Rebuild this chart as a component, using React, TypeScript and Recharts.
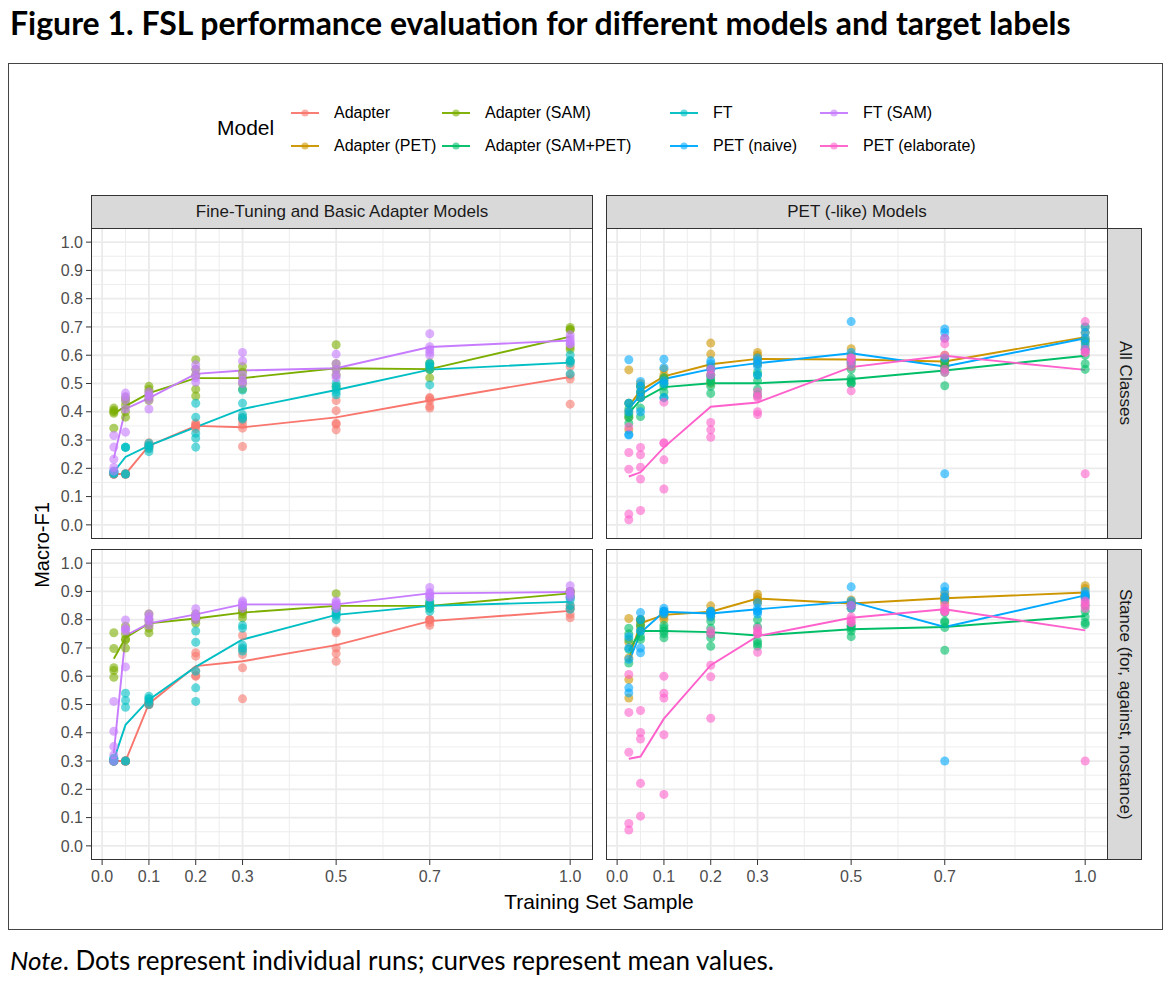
import React from 'react';
import { ComposedChart, Line, Scatter, XAxis, YAxis, CartesianGrid } from 'recharts';

// training set fractions used in every run
const SAMPLE_SIZES = [0.025, 0.05, 0.1, 0.2, 0.3, 0.5, 0.7, 1.0];
const X_MAJOR = [0, 0.1, 0.2, 0.3, 0.5, 0.7, 1.0];
const X_MINOR = [0.05, 0.15, 0.25, 0.4, 0.6, 0.85];
const Y_MAJOR = [0, 0.1, 0.2, 0.3, 0.4, 0.5, 0.6, 0.7, 0.8, 0.9, 1.0];
const Y_MINOR = [0.05, 0.15, 0.25, 0.35, 0.45, 0.55, 0.65, 0.75, 0.85, 0.95];

const MODELS = [
  'Adapter', 'Adapter (PET)', 'Adapter (SAM)', 'Adapter (SAM+PET)',
  'FT', 'PET (naive)', 'FT (SAM)', 'PET (elaborate)',
];
const COLORS = ['#F8766D', '#CD9600', '#7CAE00', '#00BE67', '#00BFC4', '#00A9FF', '#C77CFF', '#FF61CC'];

// ---- All Classes, fine-tuning and basic adapter models ----
const allAdapterMean = [0.18, 0.18, 0.28, 0.35, 0.345, 0.38, 0.44, 0.523];
const allAdapterRuns = [
  [0.18, 0.18, 0.18, 0.18, 0.18], [0.18, 0.18, 0.18, 0.18, 0.18],
  [0.27, 0.28, 0.29, 0.28, 0.28], [0.354, 0.35, 0.34, 0.36, 0.35],
  [0.342, 0.277, 0.37, 0.38, 0.355], [0.44, 0.404, 0.356, 0.336, 0.36],
  [0.448, 0.413, 0.44, 0.42, 0.45], [0.516, 0.427, 0.53, 0.56, 0.58],
];
const allAdapterSamMean = [0.393, 0.42, 0.466, 0.519, 0.519, 0.554, 0.551, 0.666];
const allAdapterSamRuns = [
  [0.413, 0.405, 0.395, 0.342, 0.4], [0.424, 0.381, 0.45, 0.44, 0.4],
  [0.49, 0.48, 0.47, 0.45, 0.44], [0.584, 0.456, 0.53, 0.55, 0.48],
  [0.56, 0.54, 0.52, 0.5, 0.48], [0.637, 0.57, 0.55, 0.53, 0.49],
  [0.573, 0.55, 0.52, 0.56, 0.55], [0.698, 0.69, 0.63, 0.62, 0.69],
];
const allFtMean = [0.187, 0.24, 0.28, 0.346, 0.41, 0.477, 0.549, 0.574];
const allFtRuns = [
  [0.183, 0.18, 0.19, 0.185, 0.19], [0.274, 0.18, 0.18, 0.274, 0.275],
  [0.289, 0.277, 0.259, 0.28, 0.27], [0.43, 0.381, 0.324, 0.307, 0.275],
  [0.477, 0.43, 0.374, 0.38, 0.39], [0.5, 0.49, 0.48, 0.46, 0.47],
  [0.57, 0.56, 0.55, 0.495, 0.57], [0.601, 0.572, 0.534, 0.58, 0.58],
];
const allFtSamMean = [0.236, 0.41, 0.448, 0.534, 0.546, 0.554, 0.629, 0.652];
const allFtSamRuns = [
  [0.316, 0.275, 0.232, 0.203, 0.19], [0.466, 0.454, 0.442, 0.41, 0.328],
  [0.454, 0.442, 0.41, 0.47, 0.46], [0.566, 0.55, 0.53, 0.52, 0.505],
  [0.61, 0.58, 0.53, 0.51, 0.5], [0.604, 0.57, 0.55, 0.53, 0.52],
  [0.676, 0.63, 0.61, 0.6, 0.62], [0.672, 0.66, 0.64, 0.65, 0.64],
];

// ---- All Classes, PET (-like) models ----
const allAdapterPetMean = [0.42, 0.475, 0.525, 0.568, 0.587, 0.585, 0.578, 0.664];
const allAdapterPetRuns = [
  [0.548, 0.43, 0.4, 0.38, 0.336], [0.49, 0.5, 0.47, 0.45, 0.46],
  [0.53, 0.52, 0.55, 0.51, 0.52], [0.643, 0.604, 0.56, 0.53, 0.5],
  [0.61, 0.6, 0.59, 0.57, 0.57], [0.623, 0.6, 0.58, 0.56, 0.57],
  [0.6, 0.58, 0.57, 0.56, 0.58], [0.7, 0.68, 0.66, 0.65, 0.63],
];
const allAdapterSamPetMean = [0.395, 0.442, 0.487, 0.501, 0.501, 0.516, 0.546, 0.598];
const allAdapterSamPetRuns = [
  [0.43, 0.41, 0.39, 0.36, 0.38], [0.47, 0.45, 0.413, 0.383, 0.49],
  [0.5, 0.47, 0.45, 0.49, 0.52], [0.52, 0.505, 0.49, 0.465, 0.51],
  [0.54, 0.51, 0.48, 0.46, 0.53], [0.55, 0.52, 0.5, 0.51, 0.5],
  [0.56, 0.55, 0.54, 0.492, 0.58], [0.65, 0.62, 0.6, 0.57, 0.55],
];
const allPetNaiveMean = [0.41, 0.46, 0.516, 0.551, 0.572, 0.607, 0.56, 0.66];
const allPetNaiveRuns = [
  [0.584, 0.43, 0.4, 0.318, 0.32], [0.507, 0.49, 0.47, 0.45, 0.4],
  [0.586, 0.556, 0.51, 0.5, 0.45], [0.58, 0.57, 0.55, 0.53, 0.55],
  [0.59, 0.58, 0.57, 0.56, 0.53], [0.719, 0.61, 0.59, 0.58, 0.57],
  [0.693, 0.68, 0.66, 0.59, 0.181], [0.7, 0.68, 0.66, 0.64, 0.62],
];
const allPetElaborateMean = [0.171, 0.186, 0.274, 0.418, 0.433, 0.558, 0.598, 0.548];
const allPetElaborateRuns = [
  [0.256, 0.197, 0.038, 0.018, 0.346], [0.274, 0.248, 0.204, 0.162, 0.051],
  [0.434, 0.289, 0.23, 0.127, 0.29], [0.362, 0.336, 0.31, 0.55, 0.53],
  [0.4, 0.39, 0.45, 0.47, 0.455], [0.474, 0.56, 0.58, 0.59, 0.59],
  [0.66, 0.64, 0.6, 0.55, 0.54], [0.719, 0.181, 0.62, 0.61, 0.61],
];

// ---- Stance, fine-tuning and basic adapter models ----
const stAdapterMean = [0.3, 0.3, 0.503, 0.636, 0.653, 0.71, 0.795, 0.831];
const stAdapterRuns = [
  [0.3, 0.3, 0.3, 0.3, 0.3], [0.3, 0.3, 0.3, 0.3, 0.3],
  [0.5, 0.51, 0.5, 0.505, 0.5], [0.683, 0.671, 0.602, 0.62, 0.6],
  [0.744, 0.695, 0.677, 0.63, 0.52], [0.76, 0.754, 0.7, 0.653, 0.68],
  [0.8, 0.79, 0.78, 0.8, 0.8], [0.819, 0.807, 0.84, 0.85, 0.84],
];
const stAdapterSamMean = [0.662, 0.736, 0.787, 0.804, 0.825, 0.849, 0.849, 0.893];
const stAdapterSamRuns = [
  [0.754, 0.698, 0.63, 0.62, 0.596], [0.777, 0.75, 0.73, 0.73, 0.7],
  [0.783, 0.77, 0.754, 0.8, 0.82], [0.787, 0.81, 0.8, 0.82, 0.8],
  [0.807, 0.82, 0.83, 0.84, 0.83], [0.892, 0.837, 0.84, 0.84, 0.84],
  [0.85, 0.84, 0.86, 0.85, 0.85], [0.9, 0.89, 0.88, 0.9, 0.9],
];
const stFtMean = [0.304, 0.428, 0.517, 0.633, 0.73, 0.817, 0.849, 0.863];
const stFtRuns = [
  [0.3, 0.3, 0.3, 0.31, 0.31], [0.514, 0.49, 0.3, 0.3, 0.54],
  [0.529, 0.52, 0.51, 0.5, 0.52], [0.72, 0.618, 0.559, 0.511, 0.76],
  [0.78, 0.77, 0.689, 0.7, 0.71], [0.813, 0.8, 0.82, 0.83, 0.82],
  [0.854, 0.84, 0.83, 0.866, 0.85], [0.878, 0.85, 0.837, 0.87, 0.88],
];
const stFtSamMean = [0.328, 0.744, 0.787, 0.819, 0.854, 0.854, 0.893, 0.898];
const stFtSamRuns = [
  [0.511, 0.405, 0.351, 0.322, 0.3], [0.799, 0.766, 0.633, 0.76, 0.77],
  [0.82, 0.795, 0.8, 0.78, 0.81], [0.839, 0.813, 0.82, 0.81, 0.8],
  [0.866, 0.86, 0.85, 0.85, 0.84], [0.866, 0.854, 0.86, 0.85, 0.84],
  [0.914, 0.896, 0.89, 0.88, 0.88], [0.92, 0.9, 0.9, 0.89, 0.88],
];

// ---- Stance, PET (-like) models ----
const stAdapterPetMean = [0.66, 0.787, 0.817, 0.828, 0.875, 0.857, 0.876, 0.896];
const stAdapterPetRuns = [
  [0.804, 0.665, 0.588, 0.523, 0.72], [0.8, 0.79, 0.78, 0.77, 0.8],
  [0.8, 0.82, 0.83, 0.81, 0.82], [0.849, 0.83, 0.82, 0.81, 0.83],
  [0.89, 0.88, 0.87, 0.86, 0.87], [0.87, 0.86, 0.85, 0.84, 0.86],
  [0.89, 0.88, 0.87, 0.86, 0.88], [0.92, 0.91, 0.89, 0.88, 0.88],
];
const stAdapterSamPetMean = [0.69, 0.76, 0.76, 0.756, 0.744, 0.766, 0.774, 0.813];
const stAdapterSamPetRuns = [
  [0.77, 0.75, 0.73, 0.695, 0.647], [0.8, 0.78, 0.76, 0.74, 0.73],
  [0.78, 0.76, 0.75, 0.736, 0.77], [0.795, 0.77, 0.75, 0.736, 0.706],
  [0.8, 0.775, 0.724, 0.706, 0.715], [0.777, 0.77, 0.76, 0.74, 0.78],
  [0.825, 0.795, 0.772, 0.692, 0.79], [0.85, 0.83, 0.81, 0.79, 0.783],
];
const stPetNaiveMean = [0.65, 0.754, 0.828, 0.822, 0.837, 0.864, 0.774, 0.886];
const stPetNaiveRuns = [
  [0.74, 0.7, 0.66, 0.559, 0.541], [0.825, 0.8, 0.76, 0.7, 0.683],
  [0.84, 0.825, 0.83, 0.82, 0.83], [0.83, 0.82, 0.81, 0.83, 0.82],
  [0.86, 0.84, 0.83, 0.83, 0.82], [0.916, 0.866, 0.85, 0.85, 0.84],
  [0.916, 0.9, 0.88, 0.872, 0.3], [0.9, 0.89, 0.885, 0.88, 0.875],
];
const stPetElaborateMean = [0.308, 0.316, 0.45, 0.639, 0.742, 0.807, 0.837, 0.762];
const stPetElaborateRuns = [
  [0.606, 0.472, 0.331, 0.079, 0.056], [0.479, 0.401, 0.378, 0.221, 0.105],
  [0.6, 0.54, 0.523, 0.393, 0.182], [0.639, 0.598, 0.451, 0.75, 0.76],
  [0.685, 0.75, 0.76, 0.77, 0.75], [0.85, 0.81, 0.8, 0.79, 0.79],
  [0.85, 0.84, 0.83, 0.83, 0.83], [0.866, 0.85, 0.86, 0.84, 0.3],
];

const X_DOMAIN = [-0.02375, 1.04875];
const Y_DOMAIN = [-0.05, 1.05];
const PW = 502;
const PH = 311;
const YW = 60;
const XH = 34;
const FONT = '"Liberation Sans", Arial, sans-serif';

const meanPoints = (mean) => SAMPLE_SIZES.map((x, i) => ({ x, y: mean[i] }));
const runPoints = (runs) =>
  runs.flatMap((vals, i) => vals.map((y) => ({ x: SAMPLE_SIZES[i], y })));

const Panel = ({ left, top, series, showX, showY }) => {
  const yw = showY ? YW : 0;
  const xh = showX ? XH : 0;
  const tickStyle = { fill: '#4D4D4D', fontSize: 16, fontFamily: FONT };
  return (
    <div style={{ position: 'absolute', left: left - yw, top }}>
      <ComposedChart width={PW + yw} height={PH + xh} margin={{ top: 0, right: 0, bottom: 0, left: 0 }}>
        <CartesianGrid horizontalValues={Y_MINOR} verticalValues={X_MINOR} stroke="#EBEBEB" strokeWidth={0.9} />
        <CartesianGrid horizontalValues={Y_MAJOR} verticalValues={X_MAJOR} stroke="#EBEBEB" strokeWidth={1.8} />
        <XAxis
          type="number" dataKey="x" domain={X_DOMAIN} allowDataOverflow ticks={X_MAJOR}
          hide={!showX} height={XH} axisLine={false} tickSize={5} tickMargin={6}
          tickLine={{ stroke: '#333333' }} tick={tickStyle} tickFormatter={(v) => v.toFixed(1)}
          interval={0}
        />
        <YAxis
          type="number" dataKey="y" domain={Y_DOMAIN} allowDataOverflow ticks={Y_MAJOR}
          hide={!showY} width={YW} axisLine={false} tickSize={5} tickMargin={3}
          tickLine={{ stroke: '#333333' }} tick={tickStyle} tickFormatter={(v) => v.toFixed(1)}
          interval={0}
        />
        {series.map((s) => (
          <Scatter
            key={`pts-${s.model}`} name={MODELS[s.model]} data={runPoints(s.runs)}
            fill={COLORS[s.model]} fillOpacity={0.6} isAnimationActive={false}
          />
        ))}
        {series.map((s) => (
          <Line
            key={`line-${s.model}`} name={MODELS[s.model]} data={meanPoints(s.mean)} dataKey="y"
            type="linear" stroke={COLORS[s.model]} strokeWidth={1.9} dot={false}
            activeDot={false} isAnimationActive={false}
          />
        ))}
      </ComposedChart>
      <div
        style={{
          position: 'absolute', left: yw, top: 0, width: PW, height: PH,
          border: '1.5px solid #333333', boxSizing: 'border-box', pointerEvents: 'none',
        }}
      />
    </div>
  );
};

const Strip = ({ left, top, width, height, label, vertical }) => (
  <div
    style={{
      position: 'absolute', left, top, width, height, background: '#D9D9D9',
      border: '1.5px solid #333333', boxSizing: 'border-box', display: 'flex',
      alignItems: 'center', justifyContent: 'center', fontFamily: FONT, fontSize: 17,
      color: '#1A1A1A', writingMode: vertical ? 'vertical-rl' : 'horizontal-tb',
      whiteSpace: 'nowrap',
    }}
  >
    {label}
  </div>
);

const LegendItem = ({ model, x, y }) => (
  <div style={{ position: 'absolute', left: x - 16, top: y - 10, display: 'flex', alignItems: 'center', height: 20 }}>
    <svg width={32} height={20}>
      <line x1={2} y1={10} x2={30} y2={10} stroke={COLORS[model]} strokeWidth={1.9} />
      <circle cx={16} cy={10} r={3.6} fill={COLORS[model]} fillOpacity={0.6} />
    </svg>
    <span style={{ marginLeft: 13, fontFamily: FONT, fontSize: 16, color: '#000' }}>{MODELS[model]}</span>
  </div>
);

const LEFT_X = 91;
const RIGHT_X = 606;
const TOP_Y = 228;
const BOTTOM_Y = 549;

export default function App() {
  const allFt = [
    { model: 0, mean: allAdapterMean, runs: allAdapterRuns },
    { model: 2, mean: allAdapterSamMean, runs: allAdapterSamRuns },
    { model: 4, mean: allFtMean, runs: allFtRuns },
    { model: 6, mean: allFtSamMean, runs: allFtSamRuns },
  ];
  const allPet = [
    { model: 1, mean: allAdapterPetMean, runs: allAdapterPetRuns },
    { model: 3, mean: allAdapterSamPetMean, runs: allAdapterSamPetRuns },
    { model: 5, mean: allPetNaiveMean, runs: allPetNaiveRuns },
    { model: 7, mean: allPetElaborateMean, runs: allPetElaborateRuns },
  ];
  const stFt = [
    { model: 0, mean: stAdapterMean, runs: stAdapterRuns },
    { model: 2, mean: stAdapterSamMean, runs: stAdapterSamRuns },
    { model: 4, mean: stFtMean, runs: stFtRuns },
    { model: 6, mean: stFtSamMean, runs: stFtSamRuns },
  ];
  const stPet = [
    { model: 1, mean: stAdapterPetMean, runs: stAdapterPetRuns },
    { model: 3, mean: stAdapterSamPetMean, runs: stAdapterSamPetRuns },
    { model: 5, mean: stPetNaiveMean, runs: stPetNaiveRuns },
    { model: 7, mean: stPetElaborateMean, runs: stPetElaborateRuns },
  ];

  return (
    <div style={{ position: 'absolute', left: 0, top: 0, width: 1171, height: 984, background: '#fff', fontFamily: FONT }}>
      <div style={{ position: 'absolute', left: 10, top: 3, fontFamily: 'Lato, sans-serif', fontWeight: 700, fontSize: 32, color: '#000', whiteSpace: 'nowrap' }}>
        Figure 1. FSL performance evaluation for different models and target labels
      </div>

      <div style={{ position: 'absolute', left: 8, top: 63, width: 1155, height: 867, border: '1.5px solid #444', boxSizing: 'border-box' }} />

      {/* legend */}
      <div style={{ position: 'absolute', left: 217, top: 116, fontSize: 21, color: '#000' }}>Model</div>
      <LegendItem model={0} x={305} y={113} />
      <LegendItem model={1} x={305} y={146} />
      <LegendItem model={2} x={456} y={113} />
      <LegendItem model={3} x={456} y={146} />
      <LegendItem model={4} x={684} y={113} />
      <LegendItem model={5} x={684} y={146} />
      <LegendItem model={6} x={834} y={113} />
      <LegendItem model={7} x={834} y={146} />

      <Strip left={LEFT_X} top={195} width={PW} height={34} label="Fine-Tuning and Basic Adapter Models" />
      <Strip left={RIGHT_X} top={195} width={PW} height={34} label="PET (-like) Models" />
      <Strip left={RIGHT_X + PW - 1} top={TOP_Y} width={35} height={PH} label="All Classes" vertical />
      <Strip left={RIGHT_X + PW - 1} top={BOTTOM_Y} width={35} height={PH} label="Stance (for, against, nostance)" vertical />

      <Panel left={LEFT_X} top={TOP_Y} series={allFt} showY />
      <Panel left={RIGHT_X} top={TOP_Y} series={allPet} />
      <Panel left={LEFT_X} top={BOTTOM_Y} series={stFt} showY showX />
      <Panel left={RIGHT_X} top={BOTTOM_Y} series={stPet} showX />

      <div style={{ position: 'absolute', left: 42, top: 545, transform: 'translate(-50%, -50%) rotate(-90deg)', fontSize: 20, color: '#000', whiteSpace: 'nowrap' }}>
        Macro-F1
      </div>
      <div style={{ position: 'absolute', left: 599, top: 902, transform: 'translate(-50%, -50%)', fontSize: 21, color: '#000', whiteSpace: 'nowrap' }}>
        Training Set Sample
      </div>

      <div style={{ position: 'absolute', left: 10, top: 944, fontFamily: 'Lato, sans-serif', fontSize: 26, color: '#000', whiteSpace: 'nowrap' }}>
        <i>Note</i>. Dots represent individual runs; curves represent mean values.
      </div>
    </div>
  );
}
